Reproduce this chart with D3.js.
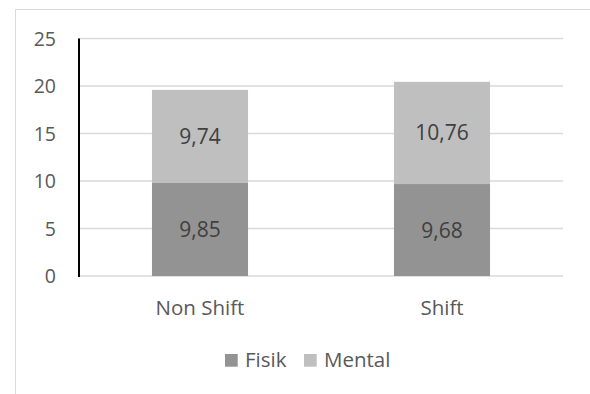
<!DOCTYPE html>
<html><head><meta charset="utf-8">
<script src="https://cdn.jsdelivr.net/npm/d3@7"></script>
<style>body{margin:0;background:#fff}svg{display:block}text{font-family:"Open Sans",sans-serif}</style>
</head><body>
<svg id="c" width="590" height="394"></svg>
<script>
const categories = ["Non Shift", "Shift"];
const seriesNames = ["Fisik", "Mental"];
const fisik = [9.85, 9.68];
const mental = [9.74, 10.76];
const yTicks = [0, 5, 10, 15, 20, 25];
const colors = ["#939393", "#bfbfbf"];

const svg = d3.select("#c");
const W = 590, H = 394;
const plot = {left: 79, right: 563, top: 38.5, bottom: 276};

// chart border (left and top visible)
svg.append("path").attr("d", `M15.5,${H} V9.5 H${W}`).attr("fill","none").attr("stroke","#d9d9d9").attr("stroke-width",1);

const x = d3.scaleBand().domain(categories).range([plot.left, plot.right]).padding(0);
const y = d3.scaleLinear().domain([0, 25]).range([plot.bottom, plot.top]);

// gridlines
svg.append("g").selectAll("line").data(yTicks).join("line")
  .attr("x1", plot.left).attr("x2", plot.right)
  .attr("y1", d => y(d)).attr("y2", d => y(d))
  .attr("stroke", "#d9d9d9").attr("stroke-width", 1.3);

// y tick labels
svg.append("g").selectAll("text").data(yTicks).join("text")
  .attr("x", 56).attr("y", d => y(d)).attr("dy", "0.36em")
  .attr("text-anchor", "end").attr("font-size", 19.5).attr("fill", "#595959")
  .text(d => d);

const data = categories.map((c, i) => ({cat: c, vals: [fisik[i], mental[i]]}));
const stacked = d3.stack().keys([0, 1]).value((d, k) => d.vals[k])(data);
const barW = x.bandwidth() * 0.397;
const fmt = v => String(v).replace(".", ",");

stacked.forEach((layer, k) => {
  const g = svg.append("g");
  g.selectAll("rect").data(layer).join("rect")
    .attr("x", d => x(d.data.cat) + x.bandwidth()/2 - barW/2)
    .attr("width", barW)
    .attr("y", d => y(d[1]))
    .attr("height", d => y(d[0]) - y(d[1]))
    .attr("fill", colors[k]);
  g.selectAll("text").data(layer).join("text")
    .attr("x", d => x(d.data.cat) + x.bandwidth()/2)
    .attr("y", d => (y(d[0]) + y(d[1]))/2)
    .attr("dy", "0.36em").attr("text-anchor", "middle")
    .attr("font-size", 21).attr("fill", "#404040")
    .text(d => fmt(d.data.vals[k]));
});

// y axis line
svg.append("line").attr("x1", plot.left).attr("x2", plot.left)
  .attr("y1", plot.top).attr("y2", plot.bottom + 1)
  .attr("stroke", "#000").attr("stroke-width", 2);

// category labels
svg.append("g").selectAll("text").data(categories).join("text")
  .attr("x", d => x(d) + x.bandwidth()/2).attr("y", 315)
  .attr("text-anchor", "middle").attr("font-size", 20.5).attr("fill", "#595959")
  .text(d => d);

// legend
const legX = [225, 304];
const leg = svg.append("g");
seriesNames.forEach((s, i) => {
  leg.append("rect").attr("x", legX[i]).attr("y", 354).attr("width", 12.7).attr("height", 12.7).attr("fill", colors[i]);
  leg.append("text").attr("x", legX[i] + 20).attr("y", 367).attr("font-size", 20.5).attr("fill", "#595959").text(s);
});
</script>
</body></html>
